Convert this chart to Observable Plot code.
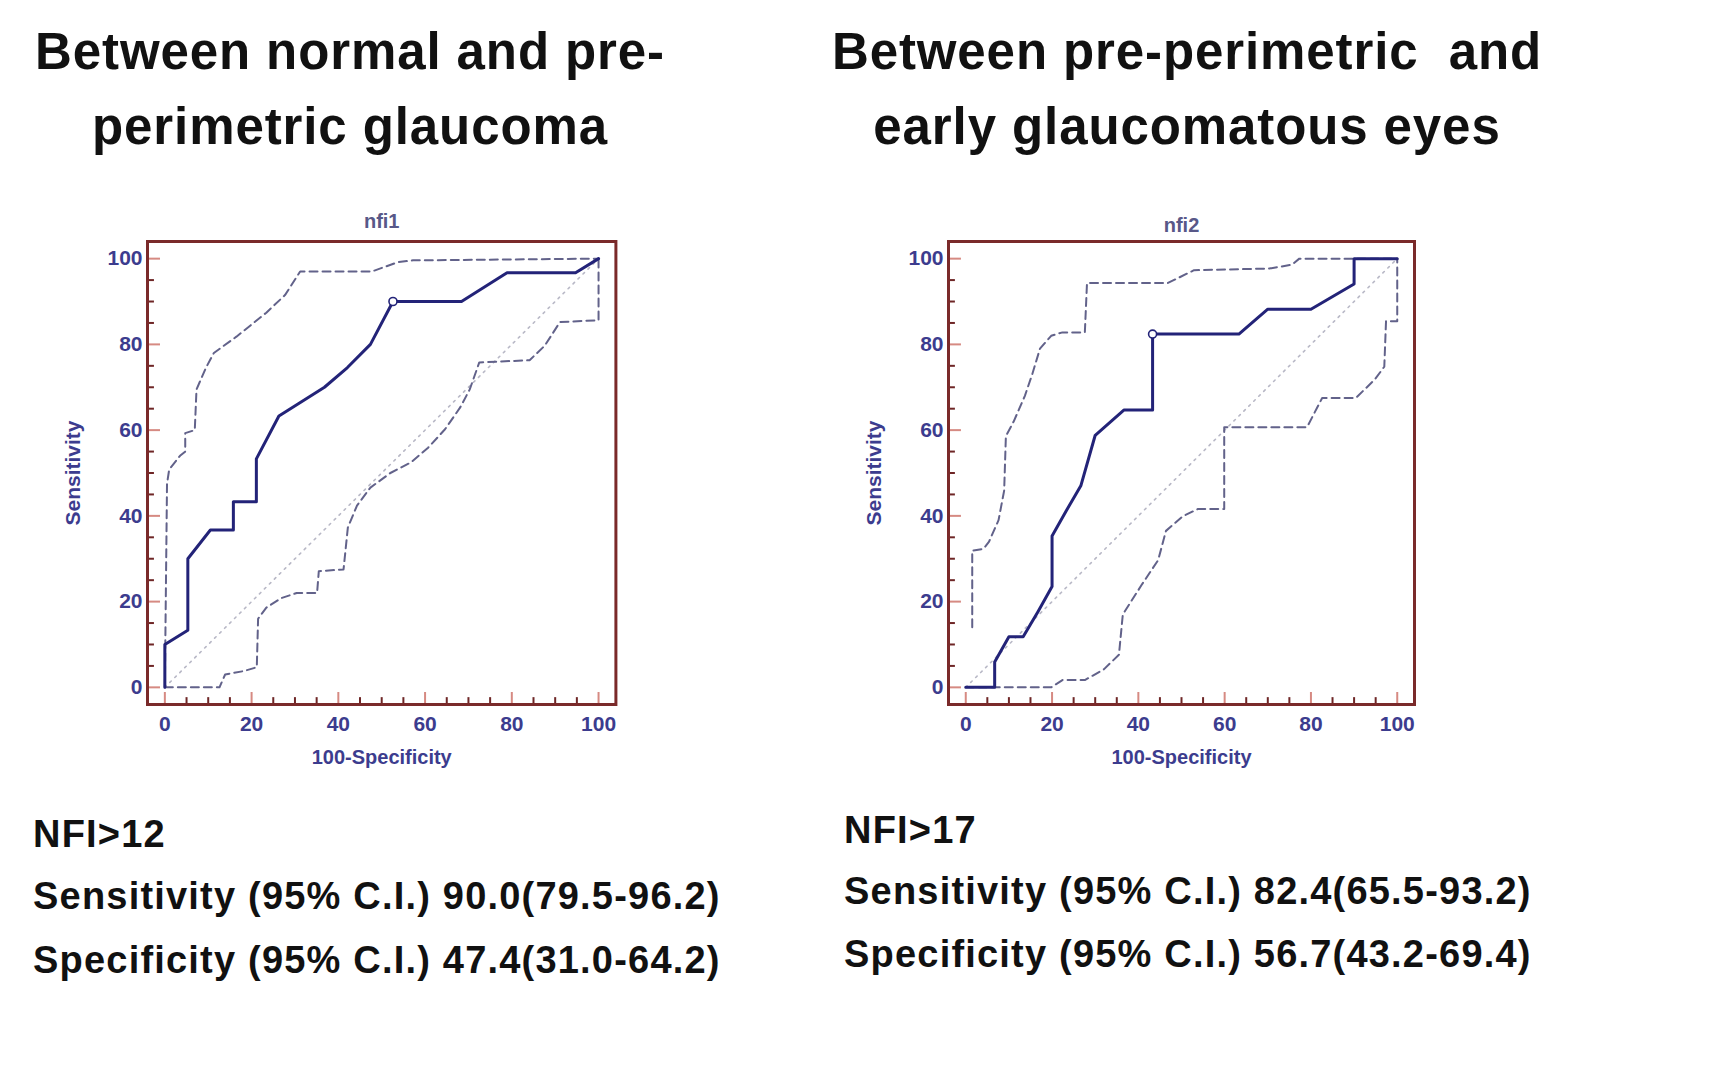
<!DOCTYPE html>
<html>
<head>
<meta charset="utf-8">
<script src="https://cdn.jsdelivr.net/npm/d3@7"></script>
<script src="https://cdn.jsdelivr.net/npm/@observablehq/plot@0.6"></script>
<style>
  html, body { margin: 0; padding: 0; background: #ffffff; }
  #page { position: relative; width: 1716px; height: 1067px; background: #ffffff; overflow: hidden; }
  .title { position: absolute; width: 800px; text-align: center; font-family: "Liberation Sans", Arial, sans-serif; font-weight: bold; font-size: 51px; line-height: 51px; letter-spacing: 0.9px; color: #111; white-space: pre; }
  .stat { position: absolute; font-family: "Liberation Sans", Arial, sans-serif; font-weight: bold; font-size: 38px; line-height: 38px; letter-spacing: 1.2px; color: #111; white-space: pre; }
  .chart { position: absolute; }
</style>
</head>
<body>
<div id="page"></div>
<script>
// ---------- data ----------
const titles1 = ["Between normal and pre-", "perimetric glaucoma"];
const titles2 = ["Between pre-perimetric  and", "early glaucomatous eyes"];
const plotTitles = ["nfi1", "nfi2"];
const xLabel = "100-Specificity";
const yLabel = "Sensitivity";
const stats1 = ["NFI>12", "Sensitivity (95% C.I.) 90.0(79.5-96.2)", "Specificity (95% C.I.) 47.4(31.0-64.2)"];
const stats2 = ["NFI>17", "Sensitivity (95% C.I.) 82.4(65.5-93.2)", "Specificity (95% C.I.) 56.7(43.2-69.4)"];

const majorTicks = [0, 20, 40, 60, 80, 100];
const minorTicks = [5, 10, 15, 25, 30, 35, 45, 50, 55, 65, 70, 75, 85, 90, 95];
const diagX = [0, 100];
const diagY = [0, 100];

// chart 1 (nfi1)
const rocX1 = [0, 0, 5.3, 5.3, 10.5, 15.8, 15.8, 21.1, 21.1, 26.3, 31.6, 36.8, 42.1, 47.4, 52.6, 68.4, 78.9, 94.7, 100];
const rocY1 = [0, 10, 13.3, 30, 36.7, 36.7, 43.3, 43.3, 53.3, 63.3, 66.7, 70, 74.6, 80, 90, 90, 96.7, 96.7, 100];
const upX1 = [0, 0.5, 1.0, 3.5, 4.7, 4.7, 6.9, 7.3, 9.5, 11.3, 16.5, 23.4, 27.7, 31.2, 47.7, 53.8, 57.2, 100];
const upY1 = [0, 47.5, 50.8, 54, 55, 59.3, 60, 69.5, 74.6, 78, 81.8, 87.4, 91.5, 97, 97, 99.2, 99.6, 100];
const loX1 = [0, 12.6, 13.9, 18.2, 21.2, 21.5, 23.4, 26.8, 30.4, 35.1, 35.5, 41.2, 42.2, 44.3, 47.4, 52, 56.8, 60.7, 64.6, 68.1, 70.3, 72.5, 84.1, 87.6, 91.1, 99.3, 100, 100];
const loY1 = [0, 0, 3, 3.8, 4.7, 16, 18.6, 20.8, 22, 22, 27.1, 27.5, 37.3, 42.4, 46.6, 50, 52.5, 55.9, 60.2, 65.3, 69.5, 75.8, 76.3, 79.7, 85.2, 85.6, 85.6, 100];
const critX1 = [52.6];
const critY1 = [90];

// chart 2 (nfi2)
const rocX2 = [0, 6.7, 6.7, 10, 13.3, 16.7, 20, 20, 23.3, 26.7, 30, 36.7, 43.3, 43.3, 63.3, 70, 80, 90, 90, 100];
const rocY2 = [0, 0, 5.9, 11.8, 11.8, 17.6, 23.5, 35.3, 41.2, 47.1, 58.8, 64.7, 64.7, 82.4, 82.4, 88.2, 88.2, 94.1, 100, 100];
const upX2 = [1.5, 1.5, 4.1, 5.4, 7.6, 8.9, 9.3, 11.1, 13.7, 15.4, 17.2, 19.8, 22.4, 27.6, 28.1, 46.8, 52.9, 70.4, 75.6, 77.3, 100];
const upY2 = [14, 31.9, 32.3, 34, 39, 45.9, 58.6, 62, 68, 73, 79, 82, 82.8, 82.8, 94.3, 94.3, 97.3, 97.7, 98.6, 100, 100];
const loX2 = [0, 19.8, 22.4, 27.6, 32, 35.5, 36.4, 40.7, 44.6, 46.4, 50.3, 53.8, 59.9, 59.9, 79.1, 82.6, 90.4, 94.8, 97, 97.4, 100, 100];
const loY2 = [0, 0, 1.7, 1.7, 4.2, 7.6, 17, 23.8, 29.7, 36.5, 39.9, 41.6, 41.6, 60.7, 60.7, 67.5, 67.5, 71.8, 74.8, 85.4, 85.4, 100];
const critX2 = [43.3];
const critY2 = [82.4];

// ---------- styles ----------
const FONT = "'Liberation Sans', Arial, sans-serif";
const C = {
  frame: "#7a2a2a",
  major: "#d68a82",
  minor: "#6e2626",
  text: "#3c3c8e",
  ptitle: "#585888",
  roc: "#232378",
  ci: "#62628a",
  diag: "#b8b8c6"
};

const pts = (xs, ys) => xs.map((x, i) => ({x, y: ys[i]}));

function chart({title, rocX, rocY, upX, upY, loX, loY, cx, cy, marginLeft, marginRight, titleDy}) {
  return Plot.plot({
    width: 680,
    height: 620,
    marginLeft, marginRight,
    marginTop: 61,
    marginBottom: 96,
    x: {domain: [-4, 104]},
    y: {domain: [-4, 104]},
    style: {fontFamily: FONT, background: "transparent", overflow: "visible"},
    marks: [
      Plot.line(pts(diagX, diagY), {x: "x", y: "y", stroke: C.diag, strokeWidth: 1.6, strokeDasharray: "2,5"}),
      Plot.line(pts(upX, upY), {x: "x", y: "y", stroke: C.ci, strokeWidth: 2, strokeDasharray: "8,5"}),
      Plot.line(pts(loX, loY), {x: "x", y: "y", stroke: C.ci, strokeWidth: 2, strokeDasharray: "8,5"}),
      Plot.line(pts(rocX, rocY), {x: "x", y: "y", stroke: C.roc, strokeWidth: 3}),
      Plot.dot(pts(cx, cy), {x: "x", y: "y", r: 4, stroke: C.roc, fill: "white", strokeWidth: 1.6}),
      // inner ticks
      Plot.ruleY(majorTicks, {y: d => d, x1: -4, x2: -1, stroke: C.major, strokeWidth: 2}),
      Plot.ruleY(minorTicks, {y: d => d, x1: -4, x2: -2.4, stroke: C.minor, strokeWidth: 2}),
      Plot.ruleX(majorTicks, {x: d => d, y1: -4, y2: -1.2, stroke: C.major, strokeWidth: 2}),
      Plot.ruleX(minorTicks, {x: d => d, y1: -4, y2: -2.4, stroke: C.minor, strokeWidth: 2}),
      // tick labels
      Plot.axisY(majorTicks, {tickSize: 0, tickPadding: 5, fontSize: 21, fontWeight: "bold", color: C.text, label: null}),
      Plot.axisX(majorTicks, {tickSize: 0, tickPadding: 12, fontSize: 21, fontWeight: "bold", color: C.text, label: null}),
      // axis titles
      Plot.text([yLabel], {text: d => d, frameAnchor: "left", dx: -74, rotate: -90, fontSize: 21, fontWeight: "bold", fill: C.text, textAnchor: "middle", lineAnchor: "middle"}),
      Plot.text([xLabel], {text: d => d, frameAnchor: "bottom", dy: 59, fontSize: 20, fontWeight: "bold", fill: C.text, textAnchor: "middle", lineAnchor: "bottom"}),
      Plot.text([title], {text: d => d, frameAnchor: "top", dy: titleDy, fontSize: 20, fontWeight: "bold", fill: C.ptitle, textAnchor: "middle", lineAnchor: "bottom"}),
      Plot.frame({stroke: C.frame, strokeWidth: 3})
    ]
  });
}

const page = document.getElementById("page");

function addTitle(lines, cx) {
  const tops = [26, 101];
  lines.forEach((t, i) => {
    const d = document.createElement("div");
    d.className = "title";
    d.textContent = t;
    d.style.left = (cx - 400) + "px";
    d.style.top = tops[i] + "px";
    page.appendChild(d);
  });
}
function addStats(lines, left, tops) {
  lines.forEach((t, i) => {
    const d = document.createElement("div");
    d.className = "stat";
    d.textContent = t;
    d.style.left = left + "px";
    d.style.top = tops[i] + "px";
    page.appendChild(d);
  });
}
function addChart(svg, left, top) {
  const d = document.createElement("div");
  d.className = "chart";
  d.style.left = left + "px";
  d.style.top = top + "px";
  d.appendChild(svg);
  page.appendChild(d);
}

addTitle(titles1, 350);
addTitle(titles2, 1187);

addChart(chart({title: plotTitles[0], rocX: rocX1, rocY: rocY1, upX: upX1, upY: upY1, loX: loX1, loY: loY1, cx: critX1, cy: critY1, marginLeft: 147, marginRight: 64.6, titleDy: -14}), 0, 180);
addChart(chart({title: plotTitles[1], rocX: rocX2, rocY: rocY2, upX: upX2, upY: upY2, loX: loX2, loY: loY2, cx: critX2, cy: critY2, marginLeft: 148, marginRight: 66, titleDy: -10}), 800, 180);

addStats(stats1, 33, [815, 877, 941]);
addStats(stats2, 844, [811, 872, 935]);
</script>
</body>
</html>
